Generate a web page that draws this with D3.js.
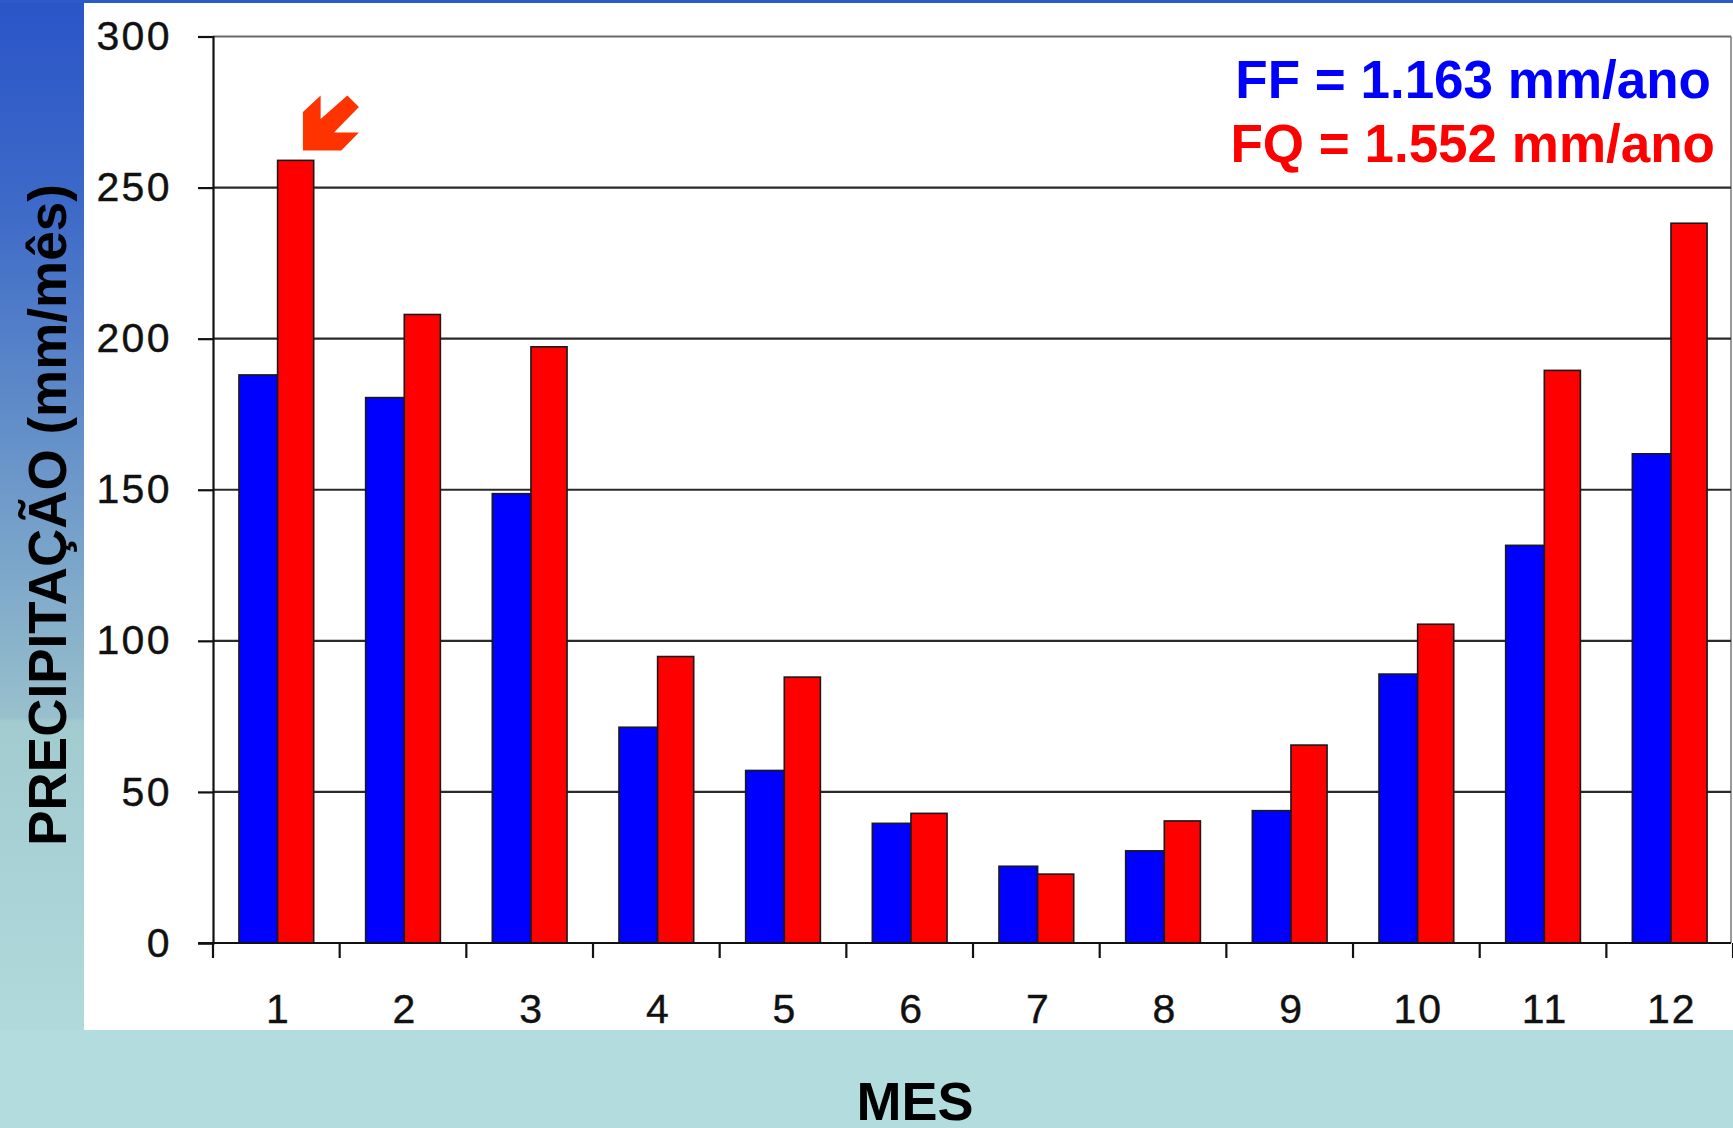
<!DOCTYPE html>
<html>
<head>
<meta charset="utf-8">
<script src="https://cdn.jsdelivr.net/npm/d3@7"></script>
<style>
  html, body { margin: 0; padding: 0; overflow: hidden; }
  body { width: 1733px; height: 1128px; }
  svg { display: block; }
</style>
</head>
<body>
<svg id="chart" width="1733" height="1128"></svg>
<script>
// ---- data ----
const months = ["1","2","3","4","5","6","7","8","9","10","11","12"];
const ffValues = [188.0, 180.5, 148.7, 71.4, 57.1, 39.6, 25.4, 30.5, 43.8, 89.0, 131.6, 161.9];
const fqValues = [259.0, 208.0, 197.3, 94.8, 88.0, 42.9, 22.8, 40.4, 65.5, 105.5, 189.5, 238.2];
const yTicks = [0, 50, 100, 150, 200, 250, 300];
const seriesNames = ["FF", "FQ"];
const legendLines = ["FF = 1.163 mm/ano", "FQ = 1.552 mm/ano"];
const yTitle = "PRECIPITAÇÃO (mm/mês)";
const xTitle = "MES";

// ---- layout ----
const W = 1733, H = 1128;
const plot = { left: 213, right: 1731, top: 36.5, bottom: 943 };
const colors = { FF: "#0000ff", FQ: "#ff0000" };

const svg = d3.select("#chart");
const defs = svg.append("defs");
const grad = defs.append("linearGradient").attr("id", "bg").attr("x1", 0).attr("y1", 0).attr("x2", 0).attr("y2", 1);
[[0, "#2a55c8"], [0.18, "#3d69c8"], [0.36, "#5f8bc9"], [0.5, "#7ba6ca"], [0.636, "#98c0cc"], [0.64, "#a2cbd0"], [1, "#b5dee0"]]
  .forEach(([o, c]) => grad.append("stop").attr("offset", o).attr("stop-color", c));

svg.append("rect").attr("width", W).attr("height", H).attr("fill", "url(#bg)");
svg.append("rect").attr("x", 0).attr("y", 1030).attr("width", W).attr("height", H - 1030).attr("fill", "#b3dcdf");
svg.append("rect").attr("x", 0).attr("y", 0).attr("width", W).attr("height", 3).attr("fill", "#2d5ac9");
// white chart panel
svg.append("rect").attr("x", 84).attr("y", 3).attr("width", W - 84).attr("height", 1027).attr("fill", "#ffffff");

// ---- scales ----
const x = d3.scaleBand().domain(months).range([plot.left, plot.left + 12 * 126.67]).padding(0);
const y = d3.scaleLinear().domain([0, 300]).range([plot.bottom, plot.top]);
const bw = x.bandwidth();

// right border of plot area
svg.append("line").attr("x1", plot.right).attr("x2", plot.right)
  .attr("y1", y(300)).attr("y2", y(0)).attr("stroke", "#9a9a9a").attr("stroke-width", 2);

// gridlines
svg.append("g").selectAll("line").data(yTicks.filter(d => d > 0)).join("line")
  .attr("x1", plot.left).attr("x2", plot.right)
  .attr("y1", d => y(d)).attr("y2", d => y(d))
  .attr("stroke", d => d === 300 ? "#6a6a6a" : "#2a2a2a").attr("stroke-width", 2.2);

// bars
const fracs = { FF: [0.205, 0.51], FQ: [0.51, 0.795] };
const barData = [];
months.forEach((m, i) => {
  barData.push({ m, s: "FF", v: ffValues[i] });
  barData.push({ m, s: "FQ", v: fqValues[i] });
});
svg.append("g").selectAll("rect").data(barData).join("rect")
  .attr("x", d => x(d.m) + fracs[d.s][0] * bw)
  .attr("width", d => (fracs[d.s][1] - fracs[d.s][0]) * bw)
  .attr("y", d => y(d.v))
  .attr("height", d => y(0) - y(d.v))
  .attr("fill", d => colors[d.s])
  .attr("stroke", "#1a1a1a").attr("stroke-width", 1.6);

// y axis
const yAxis = d3.axisLeft(y).tickValues(yTicks).tickSize(15).tickPadding(26);
const gy = svg.append("g").attr("transform", `translate(${plot.left},0)`).call(yAxis);
gy.select(".domain").attr("stroke", "#111").attr("stroke-width", 2.2);
gy.selectAll(".tick line").attr("stroke", "#111").attr("stroke-width", 2.2);
gy.selectAll(".tick text")
  .attr("font-family", "'Liberation Sans', Arial, sans-serif")
  .attr("font-size", 41).attr("letter-spacing", "2.4px").attr("fill", "#111")
  .attr("stroke", "#111").attr("stroke-width", 0.4);

// x axis: ticks at band boundaries
const gx = svg.append("g").attr("transform", `translate(0,${plot.bottom})`);
gx.append("line").attr("x1", plot.left - 15).attr("x2", plot.right)
  .attr("y1", 0).attr("y2", 0).attr("stroke", "#111").attr("stroke-width", 2.2);
const boundaries = months.map(m => x(m)).concat([x(months[11]) + bw]);
gx.selectAll("line.tk").data(boundaries).join("line").attr("class", "tk")
  .attr("x1", d => d).attr("x2", d => d).attr("y1", 0).attr("y2", 15)
  .attr("stroke", "#111").attr("stroke-width", 2.2);
gx.selectAll("text").data(months).join("text")
  .attr("x", d => x(d) + bw / 2 + 2).attr("y", 80)
  .attr("text-anchor", "middle")
  .attr("font-family", "'Liberation Sans', Arial, sans-serif")
  .attr("font-size", 41).attr("letter-spacing", "2px").attr("fill", "#111")
  .attr("stroke", "#111").attr("stroke-width", 0.4)
  .text(d => d);

// axis titles
svg.append("text").attr("x", 915).attr("y", 1120).attr("text-anchor", "middle")
  .attr("font-family", "'Liberation Sans', Arial, sans-serif").attr("font-weight", "bold")
  .attr("font-size", 54).attr("fill", "#000").text(xTitle);
svg.append("text").attr("transform", "translate(66,515) rotate(-90)").attr("text-anchor", "middle")
  .attr("font-family", "'Liberation Sans', Arial, sans-serif").attr("font-weight", "bold")
  .attr("font-size", 53).attr("fill", "#000").text(yTitle);

// legend / annotation text
svg.append("g").selectAll("text").data(legendLines).join("text")
  .attr("x", (d, i) => 1711 + i * 4).attr("y", (d, i) => 98 + i * 64)
  .attr("text-anchor", "end")
  .attr("font-family", "'Liberation Sans', Arial, sans-serif").attr("font-weight", "bold")
  .attr("font-size", 53)
  .attr("fill", (d, i) => colors[seriesNames[i]])
  .text(d => d);

// arrow pointing at the January FQ bar
const ax = x(months[0]) + 0.71 * bw, ay = y(fqValues[0]) - 10;
const arrowShape = [[0, -38.4], [17.7, -55], [17.7, -31.4], [44.4, -55], [56, -43.4], [31, -18], [56, -18], [38.4, 0], [0, 0]];
svg.append("path")
  .attr("d", d3.line()(arrowShape.map(([dx, dy]) => [ax + dx, ay + dy])) + "Z")
  .attr("fill", "#ff3300");
</script>
</body>
</html>
